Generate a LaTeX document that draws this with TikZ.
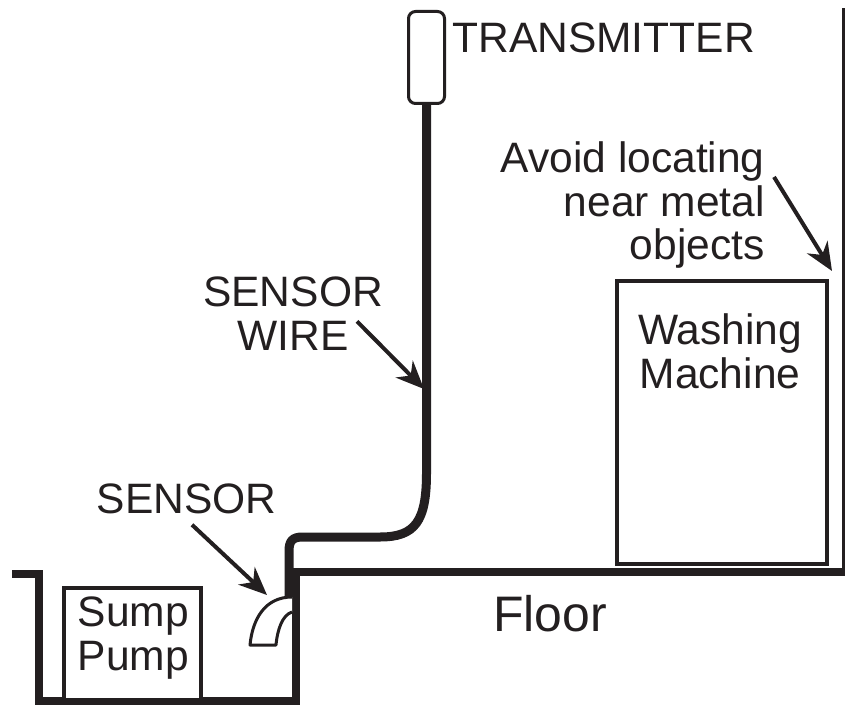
\documentclass[tikz,border=0pt]{standalone}
\usepackage{fontspec}
\setmainfont{Liberation Sans}
\usepackage{tikz}
\usetikzlibrary{arrows.meta, positioning}

\definecolor{ink}{HTML}{231F20}

\begin{document}
\begin{tikzpicture}[
  box/.style={rectangle, draw=ink, fill=white, line width=0.08cm, inner sep=0pt},
  textlabel/.style={text=ink, inner sep=0pt, align=center, font=\fontsize{24.2}{25}\selectfont},
  wall/.style={draw=ink, line width=0.16cm},
  wire/.style={draw=ink, line width=0.18cm},
  pointer/.style={-{Stealth[length=0.56cm, width=0.48cm]}, draw=ink, fill=ink, line width=0.08cm}
]
\useasboundingbox (0,0) rectangle (16.9,14.08);

% walls and floor
\draw[wall, miter limit=10] (0.24,2.61) -- (0.78,2.61) -- (0.78,0.07) -- (5.92,0.07) -- (5.92,2.64);
\draw[wall] (5.78,2.64) -- (16.9,2.64);
\draw[draw=ink, line width=0.07cm] (16.87,2.64) -- (16.87,13.92);

% boxes
\node[box, rounded corners=0.14cm, minimum width=0.72cm, minimum height=1.84cm, line width=0.06cm] (transmitter) at (8.53,12.93) {};
\node[box, minimum width=4.2cm, minimum height=5.65cm] (machine) at (14.44,5.635) {};
\node[box, minimum width=2.74cm, minimum height=2.24cm] (pump) at (2.65,1.2) {};

% sensor
\coordinate (sensortop) at (5.78,2.1);
\draw[wire] (transmitter.south) -- (8.53,4.62) .. controls (8.53,3.65) and (8.3,3.34) .. (7.6,3.34) -- (6.05,3.34) .. controls (5.85,3.34) and (5.78,3.26) .. (5.78,3.06) -- (sensortop);
\draw[draw=ink, fill=white, line width=0.06cm, line join=round] (5.84,2.14) .. controls (5.3,2.14) and (5.05,1.7) .. (5.0,1.18) -- (5.52,1.18) .. controls (5.55,1.5) and (5.65,1.78) .. (5.84,1.84);

% labels
\node[textlabel, anchor=base west] (translabel) at (9.04,13.02) {TRANSMITTER};
\node[textlabel, anchor=base east, align=right] (avoidlabel) at (15.3,8.88) {Avoid locating\\near metal\\objects};
\node[textlabel, anchor=base] (wirelabel) at (5.86,7.08) {SENSOR\\WIRE};
\node[textlabel, anchor=base] (sensorlabel) at (3.73,3.82) {SENSOR};
\node[textlabel, anchor=base, font=\fontsize{28.4}{30}\selectfont] (floorlabel) at (11.0,1.46) {Floor};
\node[textlabel, anchor=base] (machinelabel) at (14.4,6.32) {Washing\\Machine};
\node[textlabel, anchor=base] (pumplabel) at (2.67,0.68) {Sump\\Pump};

% arrows
\coordinate (avoidtip) at (16.64,8.66);
\coordinate (wiretip) at (8.48,6.3);
\coordinate (sensortip) at (5.34,2.18);
\draw[pointer] ([shift={(0.18,-0.72)}]avoidlabel.north east) -- (avoidtip);
\draw[pointer] ([shift={(1.28,0.58)}]wirelabel.south) -- (wiretip);
\draw[pointer] ([shift={(0.11,-0.22)}]sensorlabel.south) -- (sensortip);

\end{tikzpicture}
\end{document}
